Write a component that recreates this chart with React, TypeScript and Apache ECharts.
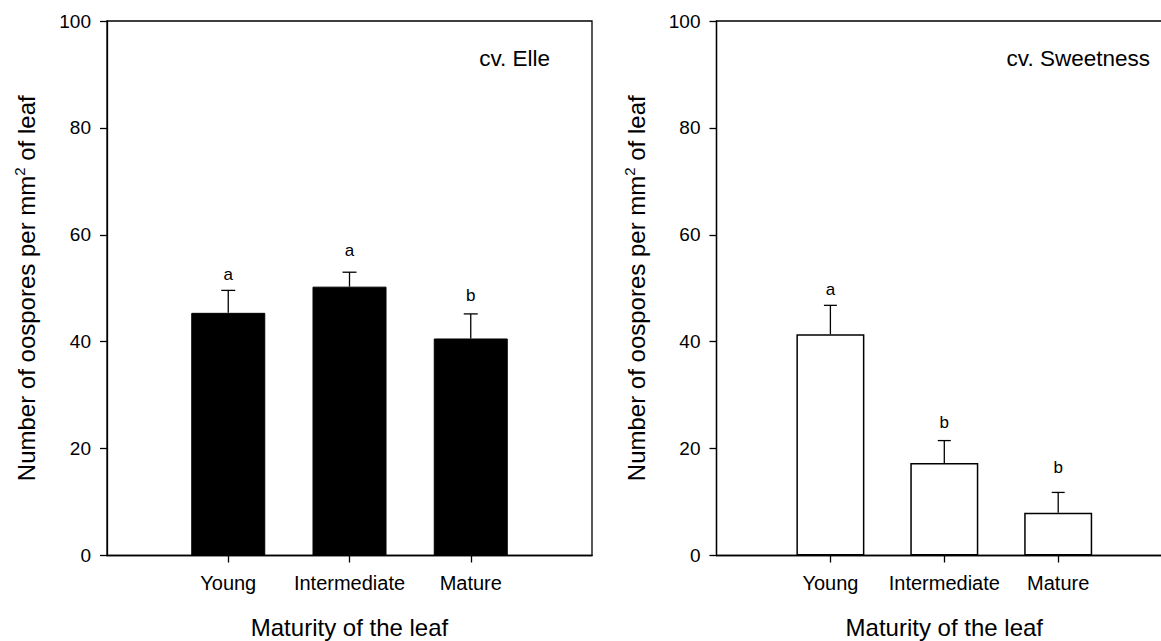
import React, { useEffect, useRef } from "react";
import * as echarts from "echarts";

const categories = ["Young", "Intermediate", "Mature"];
const categoryPositions = [1, 2, 3];
const yTicks = { min: 0, max: 100, interval: 20 };

const elleMeans = [45.4, 50.3, 40.6];
const elleErrors = [4.2, 2.7, 4.6];
const elleLetters = ["a", "a", "b"];
const elleLetterValues = [52.6, 57.0, 48.6];

const sweetMeans = [41.4, 17.3, 8.0];
const sweetErrors = [5.4, 4.2, 3.8];
const sweetLetters = ["a", "b", "b"];
const sweetLetterValues = [49.7, 24.9, 16.5];

const panelLabels = ["cv. Elle", "cv. Sweetness"];
const xTitle = "Maturity of the leaf";

const FONT = '"Liberation Sans", Arial, Helvetica, sans-serif';

function makeAxes(gridIndex: number) {
  const xAxis = {
    type: "value",
    gridIndex,
    min: 0,
    max: 4,
    interval: 1,
    name: xTitle,
    nameLocation: "middle",
    nameGap: 60,
    nameTextStyle: { fontFamily: FONT, fontSize: 24, color: "#000" },
    splitLine: { show: false },
    axisLine: { show: true, lineStyle: { color: "#000", width: 1.3 } },
    axisTick: {
      show: true,
      inside: false,
      length: 7,
      customValues: categoryPositions,
      lineStyle: { color: "#000", width: 1.3 },
    },
    axisLabel: {
      show: true,
      margin: 17,
      customValues: categoryPositions,
      formatter: (v: number) => categories[Math.round(v) - 1] ?? "",
      fontFamily: FONT,
      fontSize: 20,
      color: "#000",
    },
  };
  const yAxis = {
    type: "value",
    gridIndex,
    min: yTicks.min,
    max: yTicks.max,
    interval: yTicks.interval,
    name: "{a|Number of oospores per mm}{s|2}{a| of leaf}",
    nameLocation: "middle",
    nameGap: 66,
    nameRotate: 90,
    nameTextStyle: {
      fontFamily: FONT,
      fontSize: 24,
      color: "#000",
      rich: {
        a: { fontFamily: FONT, fontSize: 24, color: "#000", lineHeight: 29 },
        s: {
          fontFamily: FONT,
          fontSize: 15,
          color: "#000",
          lineHeight: 15,
          verticalAlign: "top",
        },
      },
    },
    splitLine: { show: false },
    axisLine: { show: true, lineStyle: { color: "#000", width: 1.3 } },
    axisTick: { show: true, inside: false, length: 7, lineStyle: { color: "#000", width: 1.3 } },
    axisLabel: { margin: 16, fontFamily: FONT, fontSize: 19, color: "#000" },
  };
  return { xAxis, yAxis };
}

function errorSeries(idx: number, means: number[], errs: number[], capW: number) {
  return {
    type: "custom",
    xAxisIndex: idx,
    yAxisIndex: idx,
    silent: true,
    z: 5,
    data: means.map((m, i) => [categoryPositions[i], m, errs[i]]),
    renderItem: (params: any, api: any) => {
      const x = api.value(0);
      const v = api.value(1);
      const e = api.value(2);
      const p0 = api.coord([x, v]);
      const p1 = api.coord([x, v + e]);
      const hw = capW / 2;
      const st = { stroke: "#000", lineWidth: 1.3 };
      return {
        type: "group",
        children: [
          { type: "line", shape: { x1: p0[0], y1: p0[1], x2: p1[0], y2: p1[1] }, style: st },
          { type: "line", shape: { x1: p1[0] - hw, y1: p1[1], x2: p1[0] + hw, y2: p1[1] }, style: st },
        ],
      };
    },
  };
}

function letterSeries(idx: number, letters: string[], values: number[]) {
  return {
    type: "custom",
    xAxisIndex: idx,
    yAxisIndex: idx,
    silent: true,
    z: 6,
    data: values.map((v, i) => [categoryPositions[i], v, i]),
    renderItem: (params: any, api: any) => {
      const p = api.coord([api.value(0), api.value(1)]);
      const i = api.value(2);
      return {
        type: "text",
        x: p[0],
        y: p[1],
        style: {
          text: letters[i],
          fill: "#000",
          font: `17px ${FONT}`,
          align: "center",
          verticalAlign: "middle",
        },
      };
    },
  };
}

export default function App() {
  const ref = useRef<HTMLDivElement>(null);
  useEffect(() => {
    if (!ref.current) return;
    const chart = echarts.init(ref.current, undefined, { renderer: "svg" });
    const a0 = makeAxes(0);
    const a1 = makeAxes(1);
    const option: any = {
      animation: false,
      backgroundColor: "#fff",
      grid: [
        {
          left: 107,
          top: 21,
          width: 485,
          height: 534.5,
          show: true,
          borderColor: "#000",
          borderWidth: 1.3,
          backgroundColor: "transparent",
          containLabel: false,
          outerBoundsMode: "none",
        },
        {
          left: 716.5,
          top: 21,
          width: 455.6,
          height: 534.5,
          show: true,
          borderColor: "#000",
          borderWidth: 1.3,
          backgroundColor: "transparent",
          containLabel: false,
          outerBoundsMode: "none",
        },
      ],
      xAxis: [a0.xAxis, a1.xAxis],
      yAxis: [a0.yAxis, a1.yAxis],
      graphic: [
        {
          type: "text",
          x: 550,
          y: 58,
          style: {
            text: panelLabels[0],
            fill: "#000",
            font: `22.5px ${FONT}`,
            align: "right",
            verticalAlign: "middle",
          },
        },
        {
          type: "text",
          x: 1150,
          y: 58,
          style: {
            text: panelLabels[1],
            fill: "#000",
            font: `22.5px ${FONT}`,
            align: "right",
            verticalAlign: "middle",
          },
        },
      ],
      series: [
        {
          type: "bar",
          xAxisIndex: 0,
          yAxisIndex: 0,
          barWidth: 74,
          data: elleMeans.map((m, i) => [categoryPositions[i], m]),
          itemStyle: { color: "#000", borderColor: "#000", borderWidth: 1 },
          z: 3,
        },
        errorSeries(0, elleMeans, elleErrors, 14),
        letterSeries(0, elleLetters, elleLetterValues),
        {
          type: "bar",
          xAxisIndex: 1,
          yAxisIndex: 1,
          barWidth: 68,
          data: sweetMeans.map((m, i) => [categoryPositions[i], m]),
          itemStyle: { color: "#fff", borderColor: "#000", borderWidth: 1.5 },
          z: 3,
        },
        errorSeries(1, sweetMeans, sweetErrors, 13),
        letterSeries(1, sweetLetters, sweetLetterValues),
      ],
    };
    chart.setOption(option);
    return () => chart.dispose();
  }, []);
  return (
    <div
      ref={ref}
      style={{ position: "fixed", left: 0, top: 0, width: 1161, height: 641, background: "#fff" }}
    />
  );
}
